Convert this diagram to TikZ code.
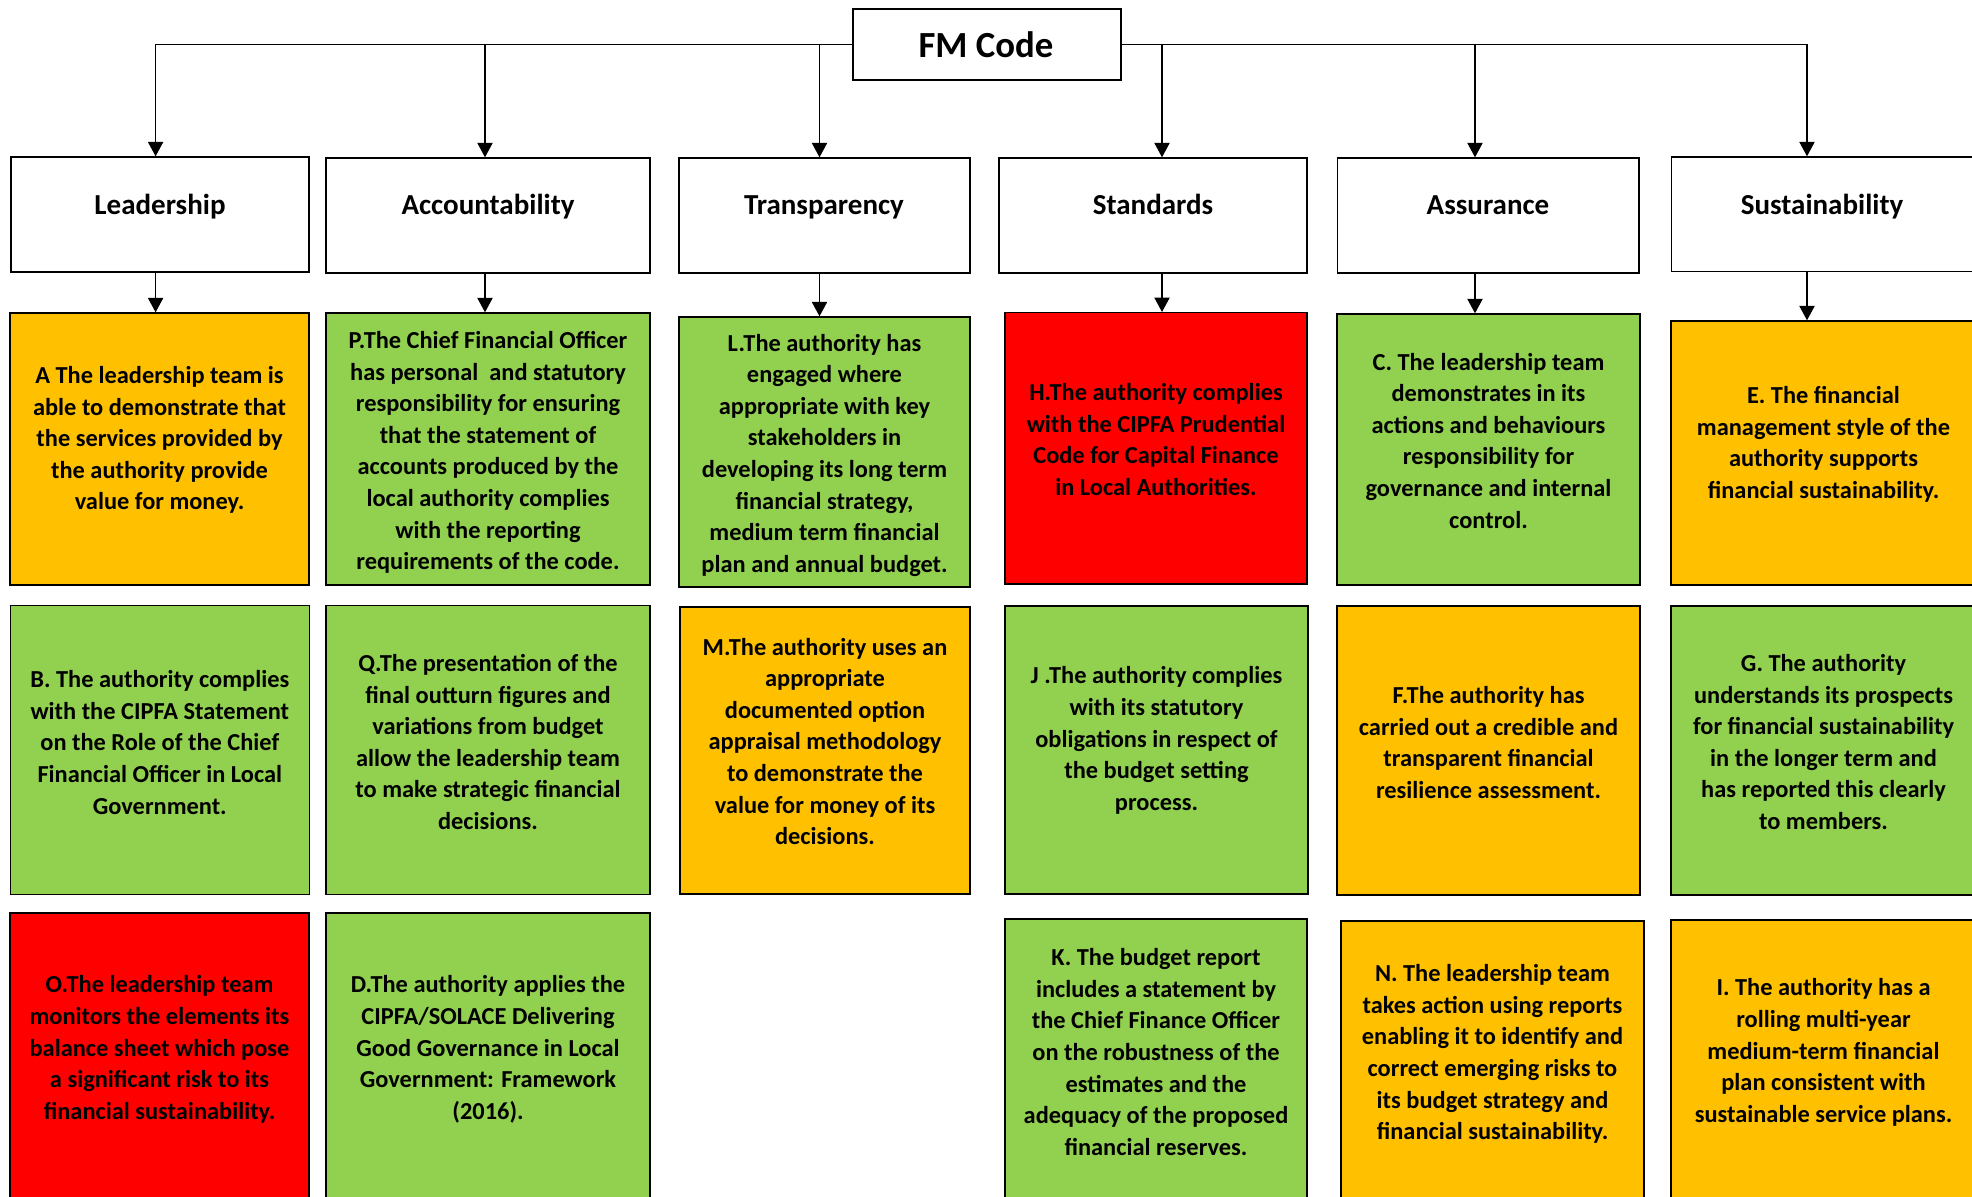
\documentclass[tikz,border=0pt]{standalone}
\usepackage{fontspec}
\setmainfont{Carlito}
\usetikzlibrary{arrows.meta,fit,calc}
\definecolor{orng}{HTML}{FFC000}
\definecolor{grn}{HTML}{92D050}
\definecolor{rd}{HTML}{FF0000}
\tikzset{
  boxfit/.style={draw=black, line width=0.7pt, inner sep=0pt, rectangle},
  hdrbox/.style={boxfit, fill=white},
  hdrtxt/.style={font=\fontsize{14.5pt}{17pt}\selectfont\bfseries, anchor=base, inner sep=0pt, yshift=-0.8pt},
  fmtxt/.style={font=\fontsize{18.4pt}{22pt}\selectfont\bfseries, anchor=base, inner sep=0pt, yshift=-1.2pt},
  bodytxt/.style={font=\fontsize{12.2pt}{15.8pt}\selectfont\bfseries, align=center, inner sep=0pt, anchor=center, yshift=-1.2pt},
  arr/.style={draw=black, line width=0.7pt, -{Triangle[length=7.2pt,width=7.6pt]}},
}
\begin{document}
\begin{tikzpicture}[x=0.5pt,y=-0.5pt]
\clip (0,0) rectangle (1972,1197);
\fill[white] (0,0) rectangle (1972,1197);

% top box
\node[hdrbox, fit={(853,9) (1121,80)}] (fm) {};
\node[fmtxt] (fmt) at (986,55) {FM Code};

% header boxes
\node[hdrbox, fit={(10.8,157) (309,272)}] (Lh) {};
\node[hdrbox, fit={(326,158) (650,273)}] (Ah) {};
\node[hdrbox, fit={(679,158) (970,273)}] (Th) {};
\node[hdrbox, fit={(999,158) (1307,273)}] (Sh) {};
\node[hdrbox, fit={(1337.5,158) (1639,273)}] (Ash) {};
\node[hdrbox, fit={(1671.5,157) (1990,271.5)}] (Suh) {};

\node[hdrtxt] (Lht) at (160,212.5) {Leadership};
\node[hdrtxt] (Aht) at (488,213) {Accountability};
\node[hdrtxt] (Tht) at (824,213) {Transparency};
\node[hdrtxt] (Sht) at (1153,213) {Standards};
\node[hdrtxt] (Asht) at (1488,213) {Assurance};
\node[hdrtxt] (Suht) at (1822,212.5) {Sustainability};

% arrow x positions
\coordinate (xL) at (155.6,0);
\coordinate (xA) at (485,0);
\coordinate (xT) at (819.5,0);
\coordinate (xS) at (1162,0);
\coordinate (xAs) at (1475,0);
\coordinate (xSu) at (1807,0);

% row 1
\node[boxfit, fill=orng, fit={(10,313) (309,585)}] (A) {};
\node[boxfit, fill=grn, fit={(326,313) (650,585)}] (P) {};
\node[boxfit, fill=grn, fit={(679,317) (970,587)}] (L) {};
\node[boxfit, fill=rd, fit={(1005,312.7) (1307,584)}] (H) {};
\node[boxfit, fill=grn, fit={(1337,314) (1640,585)}] (C) {};
\node[boxfit, fill=orng, fit={(1671,321) (1976,585)}] (E) {};
% row 2
\node[boxfit, fill=grn, fit={(10.3,605.5) (309.4,894.7)}] (B) {};
\node[boxfit, fill=grn, fit={(326,605.5) (650,894.7)}] (Q) {};
\node[boxfit, fill=orng, fit={(680,607) (970,894)}] (M) {};
\node[boxfit, fill=grn, fit={(1005,606) (1308,894)}] (J) {};
\node[boxfit, fill=orng, fit={(1337,606) (1640,895)}] (F) {};
\node[boxfit, fill=grn, fit={(1671,606) (1976,895)}] (G) {};
% row 3
\node[boxfit, fill=rd, fit={(10,913) (309,1215)}] (O) {};
\node[boxfit, fill=grn, fit={(326,913) (650,1215)}] (D) {};
\node[boxfit, fill=grn, fit={(1005,919) (1307,1215)}] (K) {};
\node[boxfit, fill=orng, fit={(1341,921) (1644,1215)}] (N) {};
\node[boxfit, fill=orng, fit={(1671,920) (1976,1215)}] (I) {};

% connectors from FM Code
\draw[arr] (fm.west) -| (xL |- Lh.north);
\draw[arr] (fm.west) -| (xA |- Ah.north);
\draw[arr] (fm.west) -| (xT |- Th.north);
\draw[arr] (fm.east) -| (xS |- Sh.north);
\draw[arr] (fm.east) -| (xAs |- Ash.north);
\draw[arr] (fm.east) -| (xSu |- Suh.north);

% header to first box
\draw[arr] (xL |- Lh.south) -- (xL |- A.north);
\draw[arr] (xA |- Ah.south) -- (xA |- P.north);
\draw[arr] (xT |- Th.south) -- (xT |- L.north);
\draw[arr] (xS |- Sh.south) -- (xS |- H.north);
\draw[arr] (xAs |- Ash.south) -- (xAs |- C.north);
\draw[arr] (xSu |- Suh.south) -- (xSu |- E.north);

% texts row 1
\node[bodytxt] (At) at (159.5,437.7) {A The leadership team is\\able to demonstrate that\\the services provided by\\the authority provide\\value for money.};
\node[bodytxt] (Pt) at (488,450) {P.The Chief Financial Officer\\has personal~ and statutory\\responsibility for ensuring\\that the statement of\\accounts produced by the\\local authority complies\\with the reporting\\requirements of the code.};
\node[bodytxt] (Lt) at (824.5,452.8) {L.The authority has\\engaged where\\appropriate with key\\stakeholders in\\developing its long term\\financial strategy,\\medium term financial\\plan and annual budget.};
\node[bodytxt] (Ht) at (1156,437) {H.The authority complies\\with the CIPFA Prudential\\Code for Capital Finance\\in Local Authorities.};
\node[bodytxt] (Ct) at (1488.5,438.3) {C. The leadership team\\demonstrates in its\\actions and behaviours\\responsibility for\\governance and internal\\control.};
\node[bodytxt] (Et) at (1823.5,442) {E. The financial\\management style of the\\authority supports\\financial sustainability.};
% texts row 2
\node[bodytxt] (Bt) at (159.8,740) {B. The authority complies\\with the CIPFA Statement\\on the Role of the Chief\\Financial Officer in Local\\Government.};
\node[bodytxt] (Qt) at (488,739.6) {Q.The presentation of the\\final outturn figures and\\variations from budget\\allow the leadership team\\to make strategic financial\\decisions.};
\node[bodytxt] (Mt) at (825,739) {M.The authority uses an\\appropriate\\documented option\\appraisal methodology\\to demonstrate the\\value for money of its\\decisions.};
\node[bodytxt] (Jt) at (1156.5,738) {J .The authority complies\\with its statutory\\obligations in respect of\\the budget setting\\process.};
\node[bodytxt] (Ft) at (1488.5,740) {F.The authority has\\carried out a credible and\\transparent financial\\resilience assessment.};
\node[bodytxt] (Gt) at (1823.5,739.6) {G. The authority\\understands its prospects\\for financial sustainability\\in the longer term and\\has reported this clearly\\to members.};
% texts row 3
\node[bodytxt] (Ot) at (159.5,1047) {O.The leadership team\\monitors the elements its\\balance sheet which pose\\a significant risk to its\\financial sustainability.};
\node[bodytxt] (Dt) at (488,1047) {D.The authority applies the\\CIPFA/SOLACE Delivering\\Good Governance in Local\\Government: Framework\\(2016).};
\node[bodytxt] (Kt) at (1156,1049.6) {K. The budget report\\includes a statement by\\the Chief Finance Officer\\on the robustness of the\\estimates and the\\adequacy of the proposed\\financial reserves.};
\node[bodytxt] (Nt) at (1492.5,1051.6) {N. The leadership team\\takes action using reports\\enabling it to identify and\\correct emerging risks to\\its budget strategy and\\financial sustainability.};
\node[bodytxt] (It) at (1823.5,1050) {I. The authority has a\\rolling multi-year\\medium-term financial\\plan consistent with\\sustainable service plans.};
\end{tikzpicture}
\end{document}
